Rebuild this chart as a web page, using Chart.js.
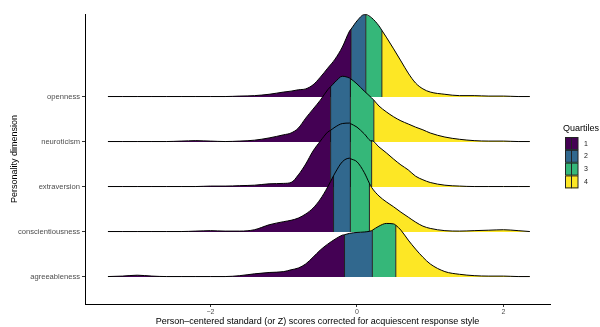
<!DOCTYPE html>
<html>
<head>
<meta charset="utf-8">
<script src="https://cdn.jsdelivr.net/npm/chart.js@4.4.0/dist/chart.umd.min.js"></script>
<style>
  html, body { margin: 0; padding: 0; background: #fff; }
  #wrap { width: 600px; height: 327px; }
</style>
</head>
<body>
<div id="wrap"><canvas id="ridgeChart"></canvas></div>
<script>
// dimensions, bottom to top
const dimensions = ['agreeableness', 'conscientiousness', 'extraversion', 'neuroticism', 'openness'];
const quartileLabels = ['1', '2', '3', '4'];
const xTicks = [-2, 0, 2];

// x positions where the ridge heights were read
const gridX = [-3.4, -3.2, -3.0, -2.8, -2.6, -2.4, -2.2, -2.0, -1.8, -1.6, -1.4, -1.2,
  -1.0, -0.9, -0.8, -0.7, -0.6, -0.5, -0.4, -0.3, -0.2, -0.1, 0, 0.1, 0.2, 0.3, 0.4, 0.5,
  0.6, 0.7, 0.8, 0.9, 1.0, 1.2, 1.4, 1.6, 1.8, 2.0, 2.2, 2.36];

// ridge heights (in rows) at gridX
const agreeableness = [0.01, 0.02, 0.04, 0.02, 0.01, 0.01, 0.01, 0.01, 0.01, 0.03, 0.07, 0.10,
  0.12, 0.16, 0.20, 0.29, 0.44, 0.60, 0.73, 0.84, 0.93, 0.97, 0.99, 1.00, 1.03, 1.13, 1.19, 1.18,
  1.04, 0.82, 0.62, 0.44, 0.29, 0.12, 0.06, 0.03, 0.02, 0.02, 0.01, 0.01];
const conscientiousness = [0.01, 0.01, 0.01, 0.01, 0.01, 0.01, 0.02, 0.03, 0.02, 0.02, 0.05, 0.16,
  0.23, 0.26, 0.31, 0.40, 0.53, 0.73, 1.00, 1.31, 1.56, 1.64, 1.56, 1.32, 0.99, 0.80, 0.67, 0.56,
  0.44, 0.33, 0.22, 0.13, 0.08, 0.03, 0.02, 0.03, 0.04, 0.05, 0.03, 0.01];
const extraversion = [0.01, 0.01, 0.01, 0.01, 0.01, 0.01, 0.01, 0.02, 0.02, 0.03, 0.04, 0.07,
  0.08, 0.10, 0.27, 0.51, 0.80, 1.02, 1.22, 1.33, 1.41, 1.42, 1.33, 1.18, 1.02, 0.89, 0.76, 0.62,
  0.49, 0.38, 0.24, 0.16, 0.10, 0.04, 0.02, 0.01, 0.01, 0.01, 0.01, 0.01];
const neuroticism = [0.01, 0.01, 0.01, 0.01, 0.01, 0.02, 0.03, 0.02, 0.01, 0.02, 0.04, 0.09,
  0.16, 0.20, 0.31, 0.53, 0.73, 0.93, 1.16, 1.33, 1.46, 1.42, 1.29, 1.13, 0.98, 0.80, 0.67, 0.56,
  0.47, 0.40, 0.33, 0.27, 0.20, 0.11, 0.06, 0.03, 0.02, 0.02, 0.01, 0.01];
const openness = [0.01, 0.01, 0.01, 0.01, 0.01, 0.01, 0.01, 0.01, 0.01, 0.02, 0.03, 0.06,
  0.11, 0.13, 0.16, 0.18, 0.27, 0.44, 0.64, 0.84, 1.11, 1.47, 1.69, 1.83, 1.76, 1.58, 1.33, 1.07,
  0.80, 0.53, 0.31, 0.18, 0.11, 0.06, 0.03, 0.03, 0.02, 0.02, 0.01, 0.01];

// quartile cut points and ridge height at each cut
const agreeablenessQ = [-0.17, 0.21, 0.53];
const agreeablenessQH = [0.94, 1.04, 1.15];
const conscientiousnessQ = [-0.32, -0.09, 0.17];
const conscientiousnessQH = [1.25, 1.63, 1.08];
const extraversionQ = [-0.36, -0.09, 0.20];
const extraversionQH = [1.26, 1.41, 1.03];
const neuroticismQ = [-0.36, -0.09, 0.23];
const neuroticismQH = [1.23, 1.41, 0.93];
const opennessQ = [-0.08, 0.12, 0.34];
const opennessQH = [1.51, 1.83, 1.48];

const heights = [agreeableness, conscientiousness, extraversion, neuroticism, openness];
const cuts = [agreeablenessQ, conscientiousnessQ, extraversionQ, neuroticismQ, opennessQ];
const cutHeights = [agreeablenessQH, conscientiousnessQH, extraversionQH, neuroticismQH, opennessQH];

const quartileColors = ['#440154', '#31688E', '#35B779', '#FDE725'];
const font = "'Liberation Sans', Arial, sans-serif";

const datasets = [];
dimensions.forEach((name, r) => {
  const base = r + 1;
  let pts = gridX.map((x, i) => ({ x: x, y: base + heights[r][i], q: false }));
  cuts[r].forEach((q, k) => pts.push({ x: q, y: base + cutHeights[r][k], q: true }));
  pts.sort((a, b) => a.x - b.x);
  const cutIdx = [];
  pts.forEach((p, i) => { if (p.q) cutIdx.push(i); });
  const bounds = [0, ...cutIdx, pts.length - 1];
  const clean = pts.map(p => ({ x: p.x, y: p.y }));

  for (let s = 0; s < 4; s++) {
    datasets.push({
      data: clean.slice(bounds[s], bounds[s + 1] + 1),
      borderWidth: 0,
      borderColor: 'rgba(0,0,0,0)',
      backgroundColor: quartileColors[s],
      fill: { value: base },
      pointRadius: 0,
      cubicInterpolationMode: 'monotone',
      order: r * 10 + 3
    });
  }
  cuts[r].forEach((q, k) => {
    datasets.push({
      data: [{ x: q, y: base }, { x: q, y: base + cutHeights[r][k] }],
      borderColor: '#111',
      borderWidth: 0.9,
      pointRadius: 0,
      fill: false,
      order: r * 10 + 2
    });
  });
  datasets.push({
    data: clean,
    borderColor: '#000',
    borderWidth: 1,
    pointRadius: 0,
    fill: false,
    cubicInterpolationMode: 'monotone',
    order: r * 10 + 1
  });
});

const legendPlugin = {
  id: 'quartileLegend',
  afterDraw(chart) {
    const ctx = chart.ctx;
    ctx.save();
    ctx.fillStyle = '#000';
    ctx.font = '9px ' + font;
    ctx.textAlign = 'left';
    ctx.textBaseline = 'alphabetic';
    ctx.fillText('Quartiles', 563, 131);
    quartileLabels.forEach((lab, i) => {
      const y = 137 + i * 12.8;
      ctx.fillStyle = quartileColors[i];
      ctx.fillRect(565, y, 13, 12.8);
      ctx.strokeStyle = '#222';
      ctx.lineWidth = 1;
      ctx.strokeRect(565.5, y + 0.5, 12.5, 12);
      ctx.beginPath();
      ctx.moveTo(571.5, y);
      ctx.lineTo(571.5, y + 12.8);
      ctx.stroke();
      ctx.fillStyle = '#1a1a1a';
      ctx.font = '7px ' + font;
      ctx.textBaseline = 'middle';
      ctx.fillText(lab, 584, y + 6.6);
    });
    ctx.restore();
  }
};

const config = {
  type: 'line',
  data: { datasets },
  options: {
    responsive: false,
    animation: false,
    layout: { padding: { left: 0, right: 50, top: 14, bottom: 0 } },
    plugins: { legend: { display: false }, tooltip: { enabled: false } },
    scales: {
      x: {
        type: 'linear',
        min: -3.713,
        max: 2.635,
        afterBuildTicks: s => { s.ticks = xTicks.map(v => ({ value: v })); },
        afterFit: s => { s.height = 23; },
        ticks: {
          color: '#4d4d4d',
          font: { family: font, size: 7 },
          padding: 1,
          callback: v => (v < 0 ? '\u2212' + Math.abs(v) : String(v))
        },
        grid: { drawOnChartArea: false, tickLength: 3, color: '#333' },
        border: { display: true, color: '#000', width: 1 },
        title: {
          display: true,
          text: 'Person\u2013centered standard (or Z) scores corrected for acquiescent response style',
          color: '#000',
          font: { family: font, size: 9 },
          padding: { top: 0, bottom: 0 }
        }
      },
      y: {
        type: 'linear',
        min: 0.4,
        max: 6.844,
        afterBuildTicks: s => { s.ticks = dimensions.map((d, i) => ({ value: i + 1 })); },
        afterFit: s => { s.width = 85; },
        ticks: {
          color: '#4d4d4d',
          font: { family: font, size: 7.6 },
          padding: 2,
          callback: v => dimensions[v - 1]
        },
        grid: { drawOnChartArea: false, tickLength: 3, color: '#333' },
        border: { display: true, color: '#000', width: 1 },
        title: {
          display: true,
          text: 'Personality dimension',
          color: '#000',
          font: { family: font, size: 9 },
          padding: { top: 9, bottom: 0 }
        }
      }
    }
  },
  plugins: [legendPlugin]
};

const canvas = document.getElementById('ridgeChart');
canvas.width = 600;
canvas.height = 327;
var ridgeChart = new Chart(canvas, config);
</script>
</body>
</html>
